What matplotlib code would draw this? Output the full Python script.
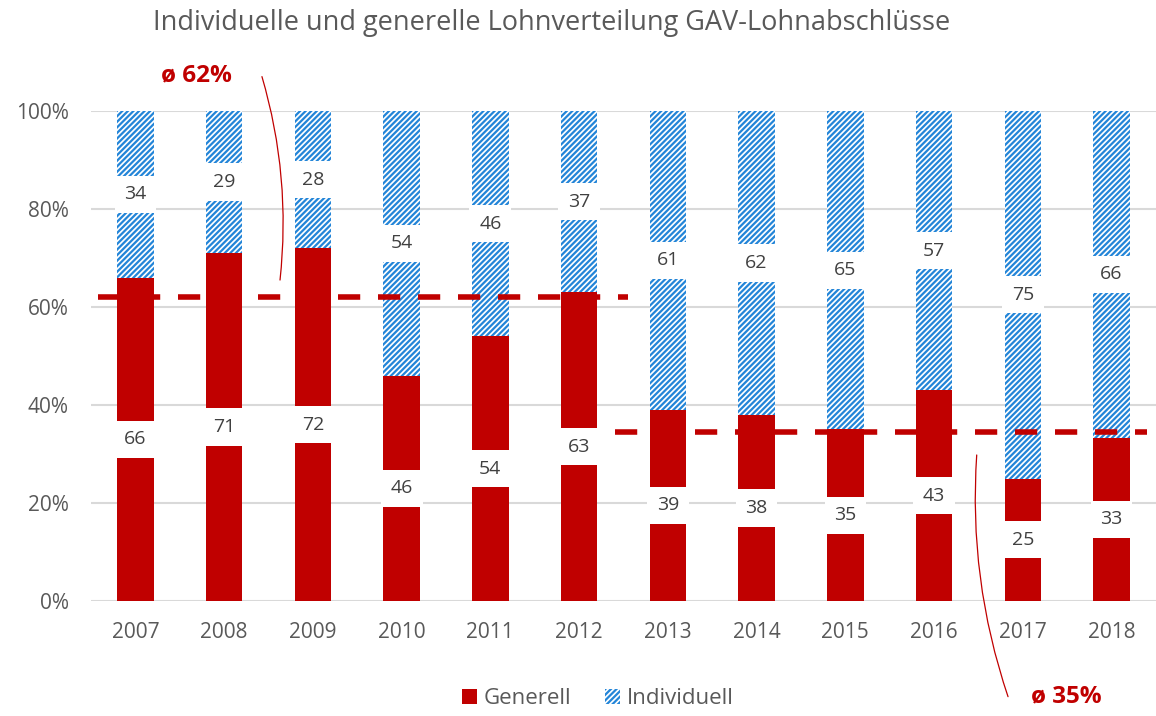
import matplotlib
matplotlib.use("Agg")
import matplotlib.pyplot as plt
from matplotlib.patches import Patch
import numpy as np

plt.rcParams['font.family'] = ['Open Sans', 'DejaVu Sans']
plt.rcParams['hatch.linewidth'] = 1.6

years = ['2007', '2008', '2009', '2010', '2011', '2012',
         '2013', '2014', '2015', '2016', '2017', '2018']
generell = [66, 71, 72, 46, 54, 63, 39, 38, 35, 43, 25, 33]
individuell = [34, 29, 28, 54, 46, 37, 61, 62, 65, 57, 75, 66]
avg_label = ['ø 62%', 'ø 35%']
avg_value = [62, 34.5]

red = '#c00000'
blue = '#2385d8'
grey = '#595959'

gen = np.array(generell, dtype=float)
ind = np.array(individuell, dtype=float)
tot = gen + ind
gen_pct = gen / tot * 100
ind_pct = ind / tot * 100
x = np.arange(len(years))

fig = plt.figure(figsize=(11.56, 7.16), dpi=100)
ax = fig.add_axes([0.0787, 0.1606, 0.9213, 0.6844])

w = 0.41
ax.bar(x, gen_pct, w, color=red, linewidth=0, zorder=2)
ax.bar(x, ind_pct, w, bottom=gen_pct, facecolor='white', edgecolor=blue,
       hatch='//////', linewidth=0, zorder=2)

# average lines
ax.plot([-0.42, 5.55], [avg_value[0]] * 2, color=red, lw=4, dashes=(4, 3.2), zorder=3)
ax.plot([5.4, 11.4], [avg_value[1]] * 2, color=red, lw=4, dashes=(4, 3.2), zorder=3)

# labels
for i in x:
    ax.text(i, gen_pct[i] / 2, str(generell[i]), ha='center', va='center',
            fontsize=14, color='#404040', zorder=4,
            bbox=dict(boxstyle='square,pad=0.5', fc='white', ec='none'))
    ax.text(i, gen_pct[i] + ind_pct[i] / 2, str(individuell[i]), ha='center', va='center',
            fontsize=14, color='#404040', zorder=4,
            bbox=dict(boxstyle='square,pad=0.5', fc='white', ec='none'))

ax.set_xlim(-0.5, len(years) - 0.5)
ax.set_ylim(0, 100)
ax.set_xticks(x)
ax.set_xticklabels(years)
ax.set_yticks(np.arange(0, 101, 20))
ax.set_yticklabels([f'{v}%' for v in range(0, 101, 20)])
ax.tick_params(axis='both', length=0, labelsize=15, colors=grey)
ax.tick_params(axis='x', pad=15)
ax.tick_params(axis='y', pad=16)
ax.yaxis.grid(True, color='#d9d9d9', lw=1.5, zorder=0)
ax.set_axisbelow(True)
for s in ax.spines.values():
    s.set_visible(False)

fig.text(0.477, 0.968, 'Individuelle und generelle Lohnverteilung GAV-Lohnabschlüsse',
         ha='center', va='center', fontsize=19.5, color=grey)

# average annotations
fig.text(0.170, 0.895, avg_label[0], ha='center', va='center', fontsize=17.5,
         fontweight='bold', color=red)
ax.annotate('', xy=(1.63, 65.5), xytext=(0.2266, 0.893), textcoords='figure fraction',
            annotation_clip=False,
            arrowprops=dict(arrowstyle='-', color=red, lw=0.9,
                            connectionstyle='arc3,rad=-0.1', shrinkA=0, shrinkB=0))
fig.text(0.922, 0.028, avg_label[1], ha='center', va='center', fontsize=17.5,
         fontweight='bold', color=red)
ax.annotate('', xy=(9.48, 29.8), xytext=(0.872, 0.027), textcoords='figure fraction',
            annotation_clip=False,
            arrowprops=dict(arrowstyle='-', color=red, lw=0.9,
                            connectionstyle='arc3,rad=-0.1', shrinkA=0, shrinkB=0))

handles = [Patch(facecolor=red, edgecolor='none', label='Generell'),
           Patch(facecolor='white', edgecolor=blue, hatch='//////', linewidth=0, label='Individuell')]
fig.legend(handles=handles, loc='center', bbox_to_anchor=(0.517, 0.024), ncol=2,
           frameon=False, fontsize=16, handlelength=0.7, handleheight=0.7,
           handletextpad=0.3, columnspacing=1.5, labelcolor=grey)

fig.savefig('out.png', dpi=100)
